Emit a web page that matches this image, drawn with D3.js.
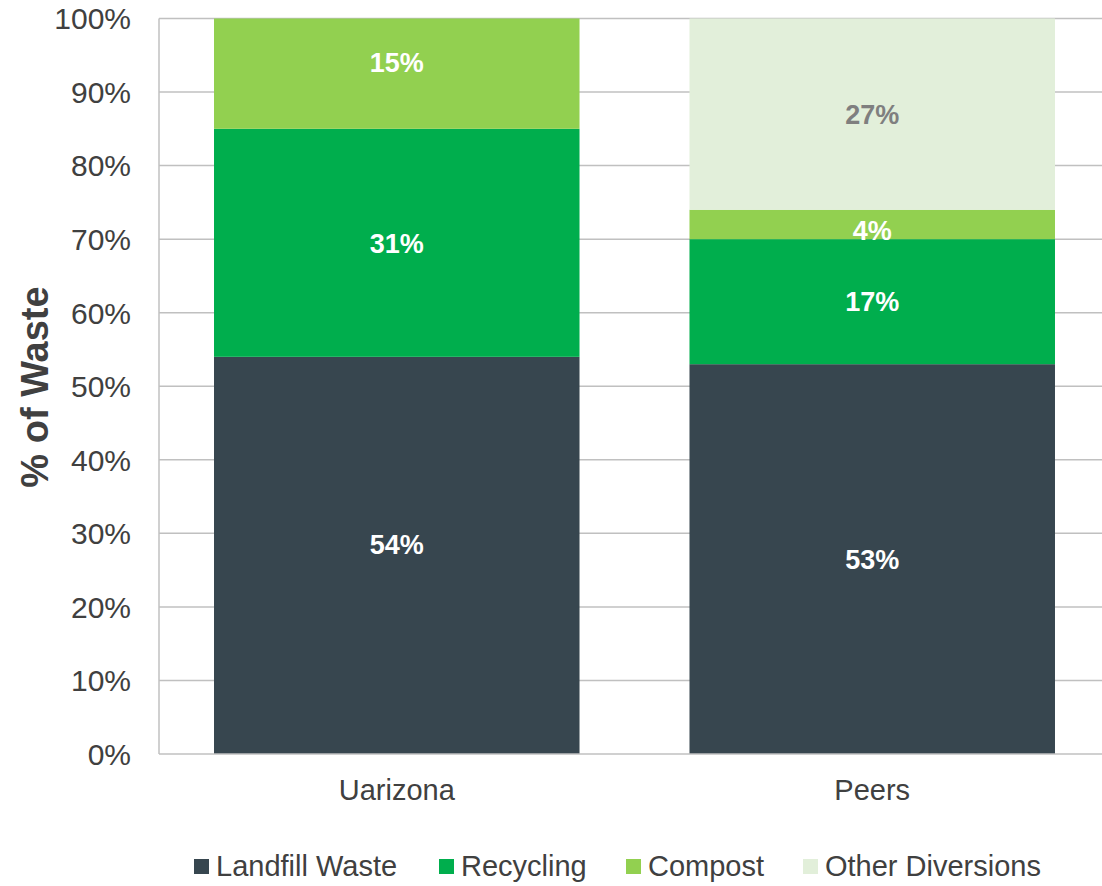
<!DOCTYPE html>
<html>
<head>
<meta charset="utf-8">
<script src="https://cdn.jsdelivr.net/npm/d3@7"></script>
<style>
  html, body { margin: 0; padding: 0; background: #ffffff; }
  svg { display: block; font-family: Arial, "Liberation Sans", sans-serif; }
</style>
</head>
<body>
<svg id="chart" width="1102" height="886"></svg>
<script>
// Waste breakdown by destination (percent of total waste)
const categories = ["Uarizona", "Peers"];
const seriesNames = ["Landfill Waste", "Recycling", "Compost", "Other Diversions"];
const landfill = [54, 53];
const recycling = [31, 17];
const compost = [15, 4];
const otherDiversions = [0, 27];
const yTicks = [0, 10, 20, 30, 40, 50, 60, 70, 80, 90, 100];

const colors = ["#37464f", "#00ae4d", "#92d050", "#e2efda"];
const labelColors = ["#ffffff", "#ffffff", "#ffffff", "#7f7f7f"];

const rows = categories.map((c, i) => ({
  category: c,
  "Landfill Waste": landfill[i],
  "Recycling": recycling[i],
  "Compost": compost[i],
  "Other Diversions": otherDiversions[i]
}));

const stacked = d3.stack().keys(seriesNames)(rows);

const svg = d3.select("#chart");
const plot = { left: 159, right: 1110, top: 18.5, bottom: 754 };

const x = d3.scaleBand()
  .domain(categories)
  .range([plot.left, plot.right])
  .paddingInner(0.2313)
  .paddingOuter(0.1157);

const y = d3.scaleLinear()
  .domain([0, 100])
  .range([plot.bottom, plot.top])
  .clamp(true);

// horizontal gridlines
svg.append("g")
  .selectAll("line")
  .data(yTicks.filter(t => t > 0))
  .join("line")
  .attr("x1", plot.left)
  .attr("x2", 1102)
  .attr("y1", d => y(d))
  .attr("y2", d => y(d))
  .attr("stroke", "#c0c0c0")
  .attr("stroke-width", 1.5);

// stacked bars
const layers = svg.append("g")
  .selectAll("g")
  .data(stacked)
  .join("g")
  .attr("fill", (d, i) => colors[i]);

layers.selectAll("rect")
  .data(d => d.filter(s => s[1] - s[0] > 0))
  .join("rect")
  .attr("x", d => x(d.data.category))
  .attr("width", x.bandwidth())
  .attr("y", d => y(d[1]))
  .attr("height", d => y(d[0]) - y(d[1]));

// axis lines
svg.append("line")
  .attr("x1", plot.left).attr("x2", plot.left)
  .attr("y1", plot.top).attr("y2", plot.bottom)
  .attr("stroke", "#c0c0c0").attr("stroke-width", 1.5);
svg.append("line")
  .attr("x1", plot.left).attr("x2", 1102)
  .attr("y1", plot.bottom).attr("y2", plot.bottom)
  .attr("stroke", "#c0c0c0").attr("stroke-width", 1.5);

// segment value labels (a few are nudged off-centre for legibility)
const labelNudge = {
  "Uarizona|Landfill Waste": -11,
  "Uarizona|Compost": -11,
  "Peers|Compost": 6
};
stacked.forEach((layer, li) => {
  svg.append("g")
    .selectAll("text")
    .data(layer.filter(s => s[1] - s[0] > 0))
    .join("text")
    .attr("x", d => x(d.data.category) + x.bandwidth() / 2)
    .attr("y", d => (y(d[0]) + y(d[1])) / 2 + (labelNudge[d.data.category + "|" + layer.key] || 0))
    .attr("dy", "0.36em")
    .attr("text-anchor", "middle")
    .attr("font-size", 27)
    .attr("font-weight", "bold")
    .attr("fill", labelColors[li])
    .text(d => (d[1] - d[0]) + "%");
});

// y tick labels
svg.append("g")
  .selectAll("text")
  .data(yTicks)
  .join("text")
  .attr("x", 131)
  .attr("y", d => y(d))
  .attr("dy", "0.36em")
  .attr("text-anchor", "end")
  .attr("font-size", 30)
  .attr("fill", "#404040")
  .text(d => d + "%");

// category labels
svg.append("g")
  .selectAll("text")
  .data(categories)
  .join("text")
  .attr("x", d => x(d) + x.bandwidth() / 2)
  .attr("y", 800)
  .attr("text-anchor", "middle")
  .attr("font-size", 29)
  .attr("fill", "#404040")
  .text(d => d);

// y axis title
svg.append("text")
  .attr("transform", "translate(48,387) rotate(-90)")
  .attr("text-anchor", "middle")
  .attr("font-size", 38)
  .attr("font-weight", "bold")
  .attr("fill", "#404040")
  .text("% of Waste");

// legend
const legendX = [194, 439, 626, 803];
const legend = svg.append("g")
  .selectAll("g")
  .data(seriesNames)
  .join("g")
  .attr("transform", (d, i) => `translate(${legendX[i]},859)`);
legend.append("rect")
  .attr("width", 15).attr("height", 15)
  .attr("fill", (d, i) => colors[i]);
legend.append("text")
  .attr("x", 22)
  .attr("y", 17)
  .attr("font-size", 29)
  .attr("fill", "#404040")
  .text(d => d);
</script>
</body>
</html>
